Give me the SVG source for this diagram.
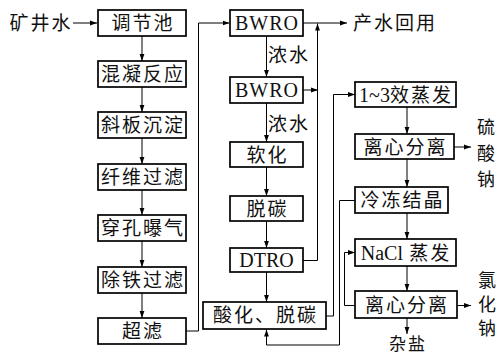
<svg xmlns="http://www.w3.org/2000/svg" width="498" height="356" viewBox="0 0 498 356">
<defs>
<marker id="ah" markerUnits="userSpaceOnUse" markerWidth="8" markerHeight="6" refX="7" refY="3" orient="auto">
<path d="M0,0.6 L7,3 L0,5.4 Z" fill="#000"/>
</marker>
<style>
.box{fill:#fff;stroke:#000;stroke-width:1.7}
.ln{fill:none;stroke:#000;stroke-width:1;marker-end:url(#ah)}
.t{font-family:"Noto Sans CJK SC","Liberation Serif",sans-serif;font-size:19px;fill:#111;text-anchor:middle;letter-spacing:2px}
.v{font-family:"Noto Sans CJK SC",sans-serif;font-size:18px;fill:#111;text-anchor:middle}
.e{font-family:"Liberation Serif",serif;font-size:20px;fill:#111;text-anchor:middle}
.m{font-family:"Liberation Serif","Noto Sans CJK SC",serif;letter-spacing:0}
</style>
</defs>
<rect width="498" height="356" fill="#fff"/>

<g id="connectors">
<line class="ln" x1="73" y1="23" x2="97" y2="23"/>
<line class="ln" x1="142" y1="36" x2="142" y2="61"/>
<line class="ln" x1="142" y1="87" x2="142" y2="112"/>
<line class="ln" x1="142" y1="138" x2="142" y2="164"/>
<line class="ln" x1="142" y1="190" x2="142" y2="215"/>
<line class="ln" x1="142" y1="241" x2="142" y2="267"/>
<line class="ln" x1="142" y1="293" x2="142" y2="318"/>
<polyline class="ln" points="186,331 198.5,331 198.5,23 229.5,23"/>
<line class="ln" x1="303" y1="23" x2="347" y2="23"/>
<line class="ln" x1="266.5" y1="36" x2="266.5" y2="77"/>
<line class="ln" x1="266.5" y1="103" x2="266.5" y2="142"/>
<line class="ln" x1="266.5" y1="167" x2="266.5" y2="196"/>
<line class="ln" x1="266.5" y1="221" x2="266.5" y2="248"/>
<line class="ln" x1="266.5" y1="272" x2="266.5" y2="302"/>
<line class="ln" x1="303" y1="90" x2="318" y2="90"/>
<polyline class="ln" points="303,260.5 317.5,260.5 317.5,23.5"/>
<polyline class="ln" points="326,316 333.5,316 333.5,94.5 355,94.5"/>
<line class="ln" x1="407" y1="107" x2="407" y2="134"/>
<line class="ln" x1="454" y1="147" x2="471" y2="147"/>
<line class="ln" x1="407" y1="159" x2="407" y2="187"/>
<polyline class="ln" points="355,200.5 339.5,200.5 339.5,345 266.5,345 266.5,329.5"/>
<line class="ln" x1="407" y1="213" x2="407" y2="239"/>
<line class="ln" x1="407" y1="266" x2="407" y2="291"/>
<polyline class="ln" points="355,305.5 344.5,305.5 344.5,252.5 355,252.5"/>
<line class="ln" x1="457" y1="305.5" x2="471" y2="305.5"/>
<line class="ln" x1="407" y1="318" x2="407" y2="334"/>
</g>

<g id="source"><text class="t" x="41" y="30">矿井水</text></g>

<g id="n1"><rect class="box" x="98" y="10" width="88" height="26"/><text class="t" x="143" y="30">调节池</text></g>
<g id="n2"><rect class="box" x="98" y="61" width="88" height="26"/><text class="t" x="143" y="81">混凝反应</text></g>
<g id="n3"><rect class="box" x="98" y="112" width="88" height="26"/><text class="t" x="143" y="132">斜板沉淀</text></g>
<g id="n4"><rect class="box" x="98" y="164" width="88" height="26"/><text class="t" x="143" y="184">纤维过滤</text></g>
<g id="n5"><rect class="box" x="98" y="215" width="88" height="26"/><text class="t" x="143" y="235">穿孔曝气</text></g>
<g id="n6"><rect class="box" x="98" y="267" width="88" height="26"/><text class="t" x="143" y="287">除铁过滤</text></g>
<g id="n7"><rect class="box" x="98" y="318" width="88" height="26"/><text class="t" x="143" y="338">超滤</text></g>

<g id="bwro1"><rect class="box" x="230" y="10" width="73" height="26"/><text class="e" x="267" y="30" style="letter-spacing:1px">BWRO</text></g>
<g id="out1"><text class="t" x="395" y="30">产水回用</text></g>
<g id="lbl1"><text class="t" x="289" y="62">浓水</text></g>
<g id="bwro2"><rect class="box" x="230" y="77" width="73" height="26"/><text class="e" x="267" y="97" style="letter-spacing:1px">BWRO</text></g>
<g id="lbl2"><text class="t" x="289" y="131">浓水</text></g>
<g id="soft"><rect class="box" x="230" y="142" width="73" height="25"/><text class="t" x="267.5" y="161.5">软化</text></g>
<g id="decarb"><rect class="box" x="230" y="196" width="73" height="25"/><text class="t" x="267.5" y="215.5">脱碳</text></g>
<g id="dtro"><rect class="box" x="230" y="248" width="73" height="24"/><text class="e" x="266.5" y="267">DTRO</text></g>
<g id="acid"><rect class="box" x="203" y="302" width="123" height="27"/><text class="t" x="265.5" y="322">酸化、脱碳</text></g>

<g id="evap"><rect class="box" x="355" y="82" width="101" height="25"/><text class="t" x="406" y="101.5"><tspan class="m" style="font-size:20px">1~3</tspan>效蒸发</text></g>
<g id="cent1"><rect class="box" x="355" y="134" width="99" height="25"/><text class="t" x="405.5" y="153.5">离心分离</text></g>
<g id="na2so4"><text class="v" x="486" y="134">硫</text><text class="v" x="486" y="160">酸</text><text class="v" x="486" y="186">钠</text></g>
<g id="freeze"><rect class="box" x="355" y="187" width="93" height="26"/><text class="t" x="402.5" y="207">冷冻结晶</text></g>
<g id="naclevap"><rect class="box" x="355" y="239" width="101" height="27"/><text class="t" x="406" y="259.5"><tspan class="m" style="font-size:20px">NaCl</tspan> 蒸发</text></g>
<g id="cent2"><rect class="box" x="355" y="291" width="102" height="27"/><text class="t" x="407" y="311.5">离心分离</text></g>
<g id="nacl"><text class="v" x="487" y="287">氯</text><text class="v" x="487" y="311">化</text><text class="v" x="487" y="335">钠</text></g>
<g id="salt"><text class="t" x="408" y="350" style="font-size:17px">杂盐</text></g>
</svg>
